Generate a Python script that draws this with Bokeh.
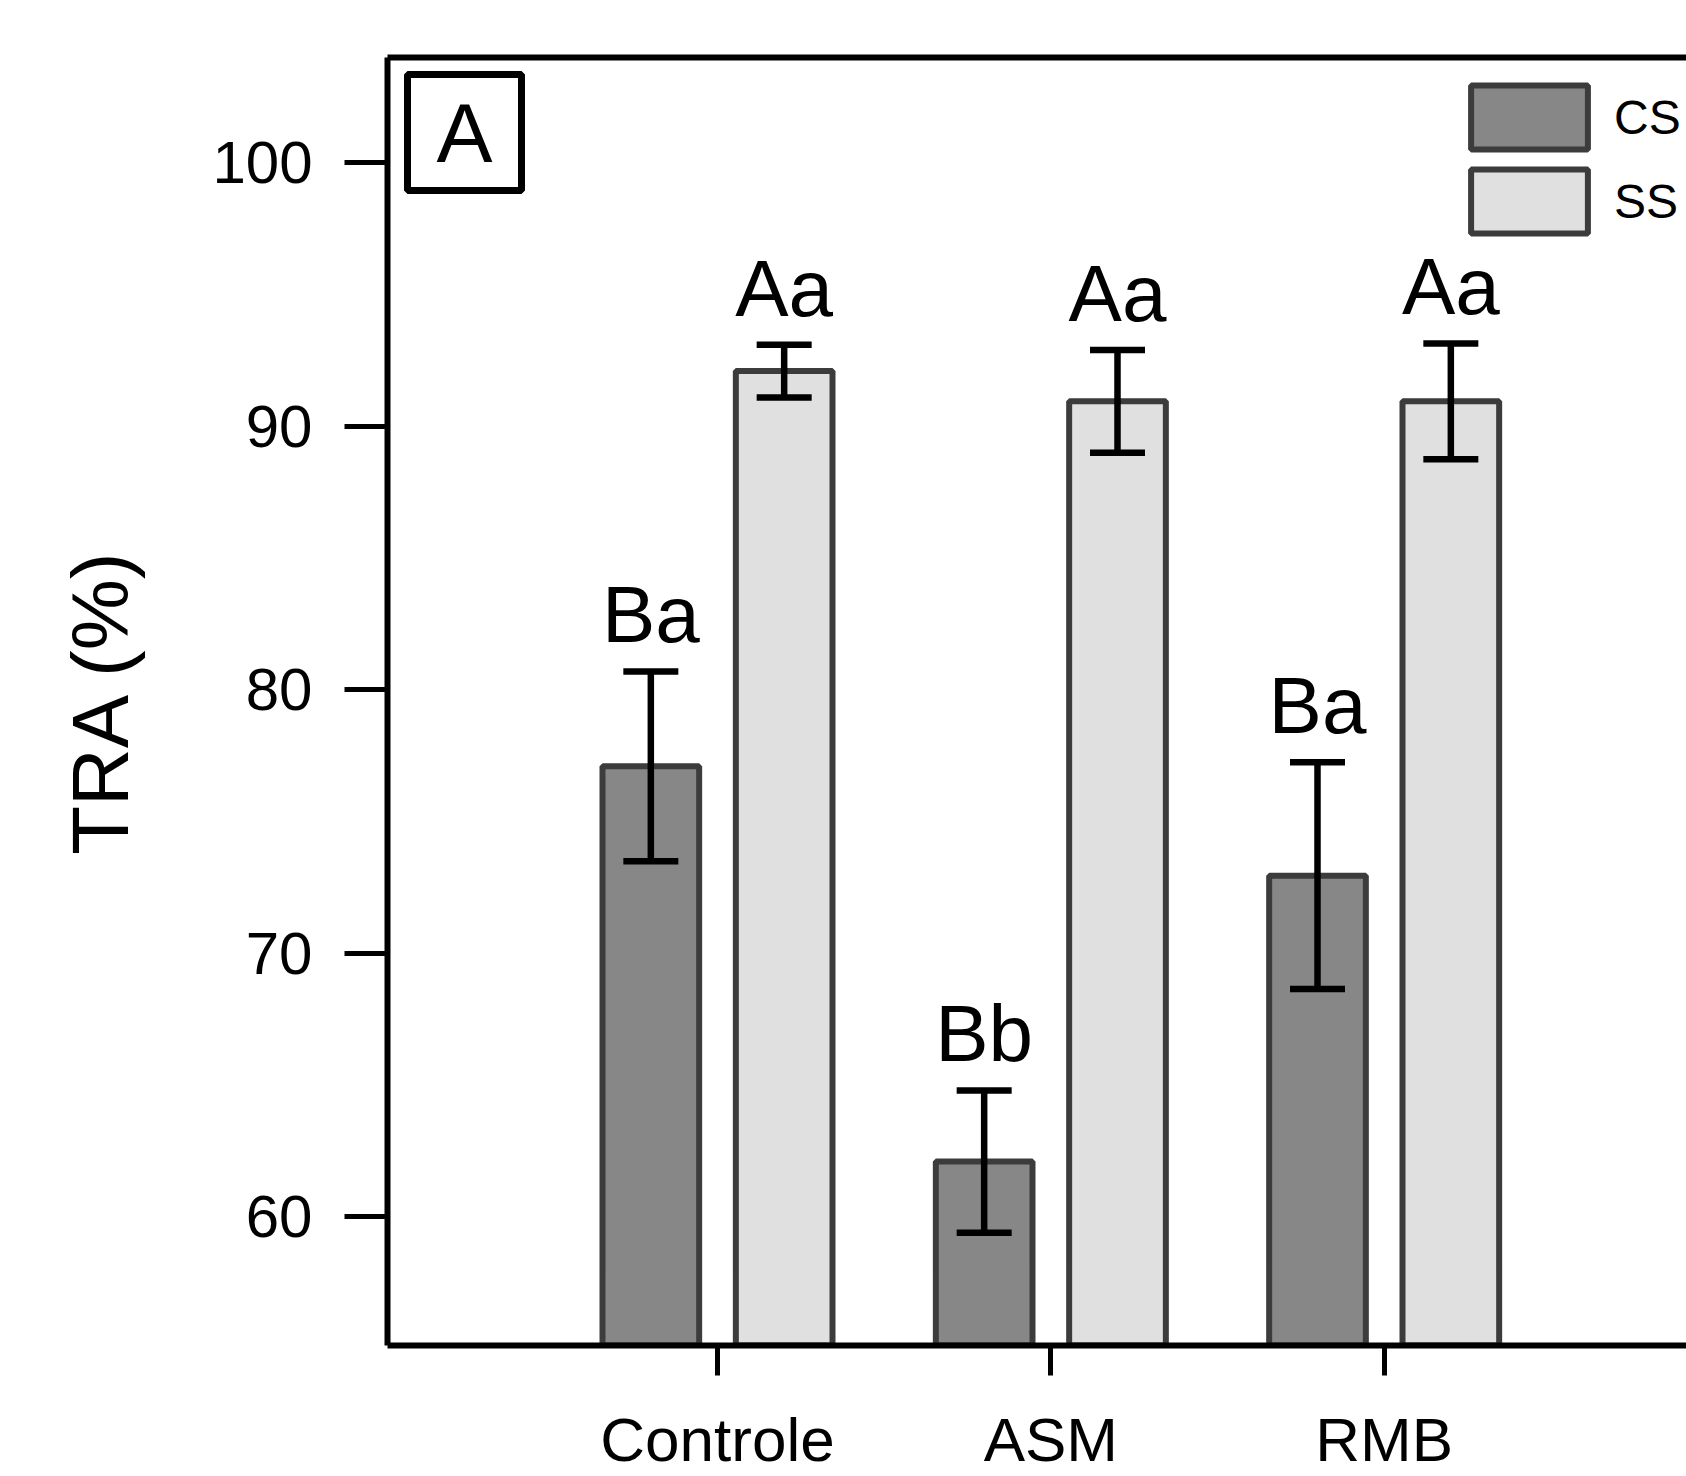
import numpy as np
from bokeh.plotting import figure
from bokeh.models import (ColumnDataSource, Range1d, FixedTicker, LinearAxis,
                          Whisker, TeeHead, Legend, LegendItem, Label)
from bokeh.core.properties import value
from bokeh.embed import file_html
from bokeh.resources import INLINE

# ---- data ----
categories = ["Controle", "ASM", "RMB"]
series_names = ["CS", "SS"]
cs_mean = [77.1, 62.1, 72.95]
cs_err = [3.6, 2.7, 4.3]
ss_mean = [92.1, 90.95, 90.95]
ss_err = [1.0, 1.95, 2.2]
cs_letters = ["Ba", "Bb", "Ba"]
ss_letters = ["Aa", "Aa", "Aa"]
y_ticks = [60, 70, 80, 90, 100]
panel_label = "A"
y_title = "TRA (%)"

FONT = "Liberation Sans"
CS_FILL, SS_FILL, EDGE = "#878787", "#e0e0e0", "#3c3c3c"

pos = np.arange(1, len(categories) + 1)
off, bw = 0.2, 0.29
label_gap = 2.15  # data units between cap and letter centre

p = figure(width=1686, height=1476, output_backend="svg", toolbar_location=None,
           x_range=Range1d(0.01, 3.907), y_range=Range1d(55.12, 104.0),
           min_border_left=387, min_border_right=0, min_border_top=57,
           min_border_bottom=131)
p.outline_line_color = None
p.xgrid.visible = False
p.ygrid.visible = False
p.background_fill_color = "white"
p.border_fill_color = "white"

def make_src(x, mean, err, labs):
    m, e = np.array(mean), np.array(err)
    return ColumnDataSource(dict(x=x, top=m, up=m + e, lo=m - e,
                                 ty=m + e + label_gap, lab=labs))

src_cs = make_src(pos - off, cs_mean, cs_err, cs_letters)
src_ss = make_src(pos + off, ss_mean, ss_err, ss_letters)

r_cs = p.vbar(x="x", top="top", bottom=0, width=bw, source=src_cs,
              fill_color=CS_FILL, line_color=EDGE, line_width=6)
r_ss = p.vbar(x="x", top="top", bottom=0, width=bw, source=src_ss,
              fill_color=SS_FILL, line_color=EDGE, line_width=6)

for s in (src_cs, src_ss):
    w = Whisker(source=s, base="x", upper="up", lower="lo", level="annotation",
                line_color="black", line_width=6.5,
                upper_head=TeeHead(size=55, line_color="black", line_width=6.5),
                lower_head=TeeHead(size=55, line_color="black", line_width=6.5))
    p.add_layout(w)
    p.text(x="x", y="ty", text="lab", source=s,
           text_align="center", text_baseline="middle",
           text_font_size="80px", text_font=value(FONT), text_color="black")

# axes
xa = p.xaxis[0]
xa.ticker = FixedTicker(ticks=list(pos), minor_ticks=[])
xa.major_label_overrides = {int(k): c for k, c in zip(pos, categories)}
xa.axis_line_width = 6
xa.major_tick_out = 30
xa.major_tick_in = 0
xa.major_tick_line_width = 5
xa.minor_tick_line_color = None
xa.major_label_text_font_size = "62px"
xa.major_label_text_font = FONT
xa.major_label_text_color = "black"
xa.major_label_standoff = 29

ya = p.yaxis[0]
ya.ticker = FixedTicker(ticks=y_ticks, minor_ticks=[])
ya.axis_line_width = 6
ya.major_tick_out = 43
ya.major_tick_in = 0
ya.major_tick_line_width = 5
ya.minor_tick_line_color = None
ya.major_label_text_font_size = "60px"
ya.major_label_text_font = FONT
ya.major_label_text_color = "black"
ya.major_label_standoff = 32
ya.axis_label = y_title
ya.axis_label_text_font = FONT
ya.axis_label_text_font_style = "normal"
ya.axis_label_text_font_size = "80px"
ya.axis_label_text_color = "black"
ya.axis_label_standoff = 64

top_ax = LinearAxis(ticker=FixedTicker(ticks=[]), axis_line_width=6,
                    major_tick_line_color=None, minor_tick_line_color=None,
                    major_label_text_font_size="0px")
p.add_layout(top_ax, "above")

legend = Legend(items=[LegendItem(label=series_names[0], renderers=[r_cs]),
                       LegendItem(label=series_names[1], renderers=[r_ss])],
                location=(1069, 1104), glyph_width=146, glyph_height=80,
                spacing=4, padding=0, margin=0, label_standoff=12,
                label_text_font_size="48px", label_text_font=FONT,
                label_text_color="black",
                border_line_color=None, background_fill_alpha=0)
p.add_layout(legend)

lab = Label(x=p.x_range.start, y=p.y_range.end, x_units="data", y_units="data",
            x_offset=77, y_offset=-75, text=panel_label, text_align="center",
            text_baseline="middle", text_font_size="84px", text_font=FONT,
            text_color="black",
            border_line_color="black", border_line_width=7,
            padding=dict(left=29, right=29, top=11, bottom=11))
p.add_layout(lab)

open("out.html", "w").write(file_html(p, INLINE))
